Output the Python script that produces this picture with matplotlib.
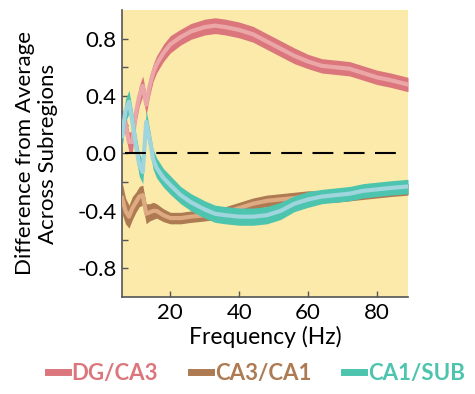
import matplotlib.pyplot as plt
import numpy as np

plt.rcParams['font.family'] = ['Lato', 'DejaVu Sans']
plt.rcParams['axes.unicode_minus'] = False

# frequency grid (Hz)
freq = np.array([6, 7, 8, 9, 10, 11, 12, 13, 14, 15, 16, 18, 20, 23, 26, 30, 33, 36,
                 40, 44, 48, 52, 56, 60, 64, 68, 72, 76, 80, 84, 89])

# DG/CA3
dg_ca3 = np.array([0.25, 0.20, 0.08, 0.08, 0.28, 0.40, 0.47, 0.34, 0.47, 0.56, 0.62,
                   0.70, 0.76, 0.81, 0.85, 0.88, 0.89, 0.88, 0.86, 0.83, 0.78, 0.73,
                   0.68, 0.64, 0.61, 0.60, 0.59, 0.56, 0.53, 0.51, 0.48])
dg_err = np.array([0.06, 0.07, 0.07, 0.07, 0.07, 0.07, 0.07, 0.07, 0.07, 0.06, 0.06,
                   0.06, 0.06, 0.055, 0.055, 0.055, 0.055, 0.055, 0.055, 0.055, 0.055, 0.055,
                   0.055, 0.05, 0.05, 0.05, 0.05, 0.05, 0.05, 0.05, 0.05])

# CA3/CA1
ca3_ca1 = np.array([-0.31, -0.40, -0.44, -0.38, -0.34, -0.30, -0.29, -0.42, -0.41, -0.40, -0.40,
                    -0.43, -0.45, -0.45, -0.44, -0.43, -0.42, -0.41, -0.38, -0.35, -0.33, -0.32,
                    -0.31, -0.30, -0.30, -0.30, -0.29, -0.28, -0.27, -0.26, -0.25])
ca3_err = np.array([0.11, 0.09, 0.08, 0.08, 0.07, 0.07, 0.07, 0.07, 0.06, 0.06, 0.05,
                    0.045, 0.04, 0.04, 0.04, 0.04, 0.04, 0.04, 0.04, 0.04, 0.04, 0.04,
                    0.04, 0.04, 0.04, 0.04, 0.04, 0.04, 0.04, 0.04, 0.04])

# CA1/SUB
ca1_sub = np.array([0.12, 0.30, 0.36, 0.22, 0.06, -0.08, -0.13, 0.22, 0.10, -0.04, -0.10,
                    -0.17, -0.22, -0.29, -0.34, -0.39, -0.42, -0.43, -0.44, -0.44, -0.43, -0.40,
                    -0.35, -0.32, -0.30, -0.29, -0.28, -0.26, -0.25, -0.24, -0.23])
ca1_err = np.array([0.08, 0.08, 0.08, 0.08, 0.08, 0.08, 0.08, 0.08, 0.07, 0.07, 0.07,
                    0.065, 0.065, 0.06, 0.06, 0.06, 0.06, 0.06, 0.06, 0.06, 0.06, 0.06,
                    0.055, 0.055, 0.05, 0.05, 0.05, 0.05, 0.05, 0.05, 0.05])

labels = ['DG/CA3', 'CA3/CA1', 'CA1/SUB']
dark = ['#db777c', '#ad7a52', '#4cc4ae']
light = ['#eba6a8', '#deaa82', '#9fd5dd']

fig = plt.figure(figsize=(4.75, 3.94), dpi=100)
ax = fig.add_axes([0.257, 0.246, 0.602, 0.729])
ax.set_facecolor('#fbeaa9')

series = [(dg_ca3, dg_err), (ca3_ca1, ca3_err), (ca1_sub, ca1_err)]
order = [1, 0, 2]
for i in order:
    m, e = series[i]
    ax.fill_between(freq, m - e, m + e, color=dark[i], lw=0, zorder=2 + i)
    ax.plot(freq, m, color=light[i], lw=3.0, zorder=2 + i)

ax.axhline(0, xmin=0.01, xmax=0.98, color='black', lw=1.5, dashes=(10, 5), zorder=6)

ax.set_xlim(6, 89)
ax.set_ylim(-1.0, 1.0)
ax.set_xticks([20, 40, 60, 80])
ax.set_yticks([-0.8, -0.4, 0.0, 0.4, 0.8])
ax.set_yticks([-0.6, -0.2, 0.2, 0.6], minor=True)
ax.tick_params(direction='in', labelsize=16, length=4, width=1, color='#555555', pad=4)
ax.tick_params(which='minor', direction='in', length=4, width=1, color='#555555')
for s in ['top', 'right']:
    ax.spines[s].set_visible(False)
for s in ['left', 'bottom']:
    ax.spines[s].set_color('#555555')
    ax.spines[s].set_linewidth(1.2)

ax.set_xlabel('Frequency (Hz)', fontsize=16.5, labelpad=2)
ax.set_ylabel('Difference from Average\nAcross Subregions', fontsize=16, labelpad=14,
              linespacing=1.15)

handles = [plt.Line2D([], [], color=dark[i], lw=5) for i in range(3)]
leg = fig.legend(handles, labels, loc='lower center', bbox_to_anchor=(0.54, -0.025), ncol=3,
                 frameon=False, prop={'size': 16, 'weight': 'bold'}, handlelength=0.9,
                 handletextpad=0.15, columnspacing=1.5)
for t, c in zip(leg.get_texts(), dark):
    t.set_color(c)

fig.savefig('out.png', dpi=100)
